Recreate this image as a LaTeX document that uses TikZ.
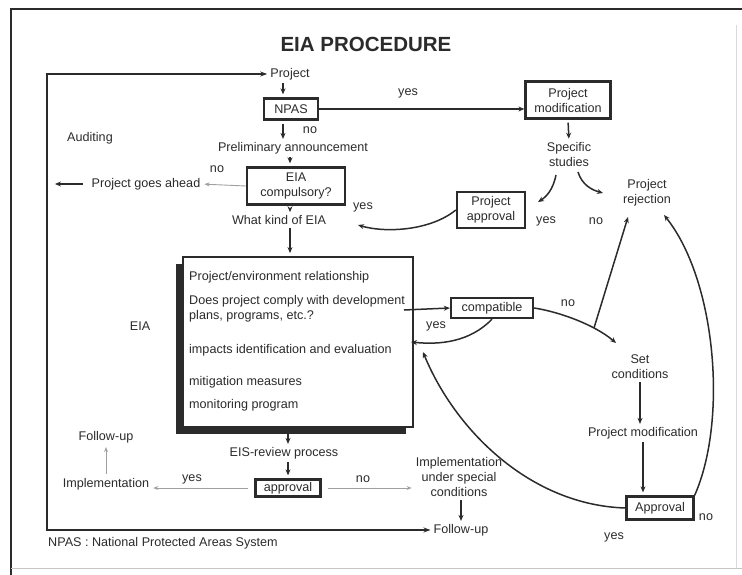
\documentclass[tikz,border=0pt]{standalone}
\usepackage{fontspec}
\setmainfont{Liberation Sans}
\usetikzlibrary{arrows.meta,shadows}
\definecolor{ink}{HTML}{2B2B2B}
\definecolor{pale}{HTML}{A0A0A0}
\begin{document}
\begin{tikzpicture}[x=1pt,y=-1pt,
  every node/.style={font=\fontsize{12.6}{15}\selectfont,text=ink,align=center,inner sep=0pt},
  boxed/.style={draw=ink,line width=2.3pt},
  flow/.style={draw=ink,line width=1.5pt,-{Stealth[length=6pt,width=5pt]}},
  faint/.style={draw=pale,line width=0.9pt,-{Stealth[length=5pt,width=4pt]}},
  gap/.style={shorten <=3pt,shorten >=3pt}]
\useasboundingbox (0,0) rectangle (742,575);

\draw[ink,line width=1.6pt] (11,575) -- (11,9) -- (742,9);
\draw[pale!60,line width=1pt] (11,568) -- (742,568);
\draw[pale!40,line width=0.8pt] (736,25) -- (736,568);

\node[font=\fontsize{20.5}{24}\selectfont\bfseries] (ttl) at (366,44) {EIA PROCEDURE};

\node                                              (prj)   at (290,74)  {Project};
\node[boxed,minimum width=54pt,minimum height=21pt] (npas)  at (291,109) {NPAS};
\node                                              (prel)  at (293,148) {Preliminary announcement};
\node[boxed,minimum width=98pt,minimum height=37pt] (eiac)  at (296,186) {EIA\\compulsory?};
\node                                              (kind)  at (279,220) {What kind of EIA};
\node                                              (goes)  at (146,184) {Project goes ahead};
\node                                              (aud)   at (90,138)  {Auditing};
\node[boxed,minimum width=85pt,minimum height=37pt] (pmod)  at (568,100) {Project\\modification};
\node                                              (spec)  at (569,154) {Specific\\studies};
\node                                              (prej)  at (647,193) {Project\\rejection};
\node[boxed,minimum width=68pt,minimum height=36pt] (pappr) at (491,210) {Project\\approval};

\node[draw=ink,line width=1.8pt,fill=white,minimum width=230pt,minimum height=170pt,
      drop shadow={shadow xshift=-7pt,shadow yshift=-7pt,fill=ink,opacity=1}] (eiab) at (298,342) {};
\node[anchor=west] (t_1) at (189,277) {Project/environment relationship};
\node[anchor=west,align=left] (t_2) at (189,309) {Does project comply with development\\plans, programs, etc.?};
\node[anchor=west] (t_3) at (189,350) {impacts identification and evaluation};
\node[anchor=west] (t_4) at (189,382) {mitigation measures};
\node[anchor=west] (t_5) at (189,405) {monitoring program};
\node                                              (eial)  at (140,326) {EIA};

\node[boxed,minimum width=82pt,minimum height=20pt] (comp)  at (492,308) {compatible};
\node                                              (setc)  at (640,367) {Set\\conditions};
\node                                              (pmod2) at (643,433) {Project modification};
\node[boxed,minimum width=67pt,minimum height=23pt] (appr2) at (660,508) {Approval};

\node                                              (eis)   at (284,453) {EIS-review process};
\node[boxed,minimum width=65pt,minimum height=17pt] (appr)  at (288,488) {approval};
\node                                              (impl)  at (106,484) {Implementation};
\node                                              (fup1)  at (106,437) {Follow-up};
\node                                              (iusc)  at (459,477) {Implementation\\under special\\conditions};
\node                                              (fup2)  at (461,530) {Follow-up};
\node[anchor=west]                                 (foot)  at (48,543)  {NPAS : National Protected Areas System};

\node (y_1) at (408,93)  {yes};
\node (n_1) at (310,130) {no};
\node (n_2) at (217,169) {no};
\node (y_2) at (363,207) {yes};
\node (y_3) at (546,221) {yes};
\node (n_3) at (596,221) {no};
\node (y_4) at (436,326) {yes};
\node (n_4) at (568,303) {no};
\node (n_5) at (706,517) {no};
\node (y_5) at (614,537) {yes};
\node (y_6) at (192,479) {yes};
\node (n_6) at (363,479) {no};

\coordinate (c_left) at (55,184);
\coordinate (c_bl)   at (47,530);
\coordinate (c_yes)  at (538,202);
\coordinate (c_no)   at (603,193);
\coordinate (c_kind) at (358,225);
\coordinate (c_in)   at (404,310);
\coordinate (c_back) at (411,342);
\coordinate (c_br)   at (594,328);
\coordinate (c_rj1)  at (628,217);
\coordinate (c_rj2)  at (664,215);
\coordinate (c_eia)  at (423,352);

\draw[line width=1.6pt,ink,{Stealth[length=7pt,width=5pt]}-{Stealth[length=7pt,width=5pt]},shorten <=3pt,shorten >=3pt]
  (prj.west) -| (c_bl) -- (fup2.west);

\draw[flow,gap] (prj.south -| 283,0) -- (npas.north -| 283,0);
\draw[flow] (npas.east) -- (npas.east -| pmod.west);
\draw[flow,gap] (npas.south -| 283,0) -- (prel.north -| 283,0);
\draw[flow,gap] (prel.south -| 290,0) -- (eiac.north -| 290,0);
\draw[faint,shorten >=4pt] (eiac.west) -- (goes.east);
\draw[flow,shorten <=9pt] (goes.west) -- (c_left);
\draw[flow,gap] (eiac.south -| 290,0) -- (kind.north -| 290,0);
\draw[flow,gap] (kind.south -| 290,0) -- (eiab.north -| 290,0);
\draw[flow,gap] (pmod.south) -- (spec.north);
\draw[flow] (556,175) .. controls (553,190) and (546,197) .. (c_yes);
\draw[flow] (578,172) .. controls (582,185) and (592,190) .. (c_no);
\draw[flow] (pappr.west) .. controls (430,231) and (385,233) .. (c_kind);

\draw[flow] (c_in) -- (comp.west);
\draw[flow] (comp.south) .. controls (470,342) and (440,345) .. (c_back);
\draw[flow] (comp.east) .. controls (560,312) and (595,325) .. (616,343);
\draw[flow] (c_br) -- (c_rj1);
\draw[flow,gap] (setc.south) -- (setc.south |- pmod2.north);
\draw[flow,gap] (pmod2.south) -- (pmod2.south |- appr2.north);
\draw[flow] (appr2.north east) .. controls (728,420) and (716,280) .. (c_rj2);
\draw[flow] (appr2.west) .. controls (530,505) and (455,430) .. (c_eia);

\draw[flow,gap] (eiab.south -| 288,0) -- (eis.north -| 288,0);
\draw[flow,gap] (eis.south -| 288,0) -- (appr.north -| 288,0);
\draw[faint,shorten <=6pt,shorten >=4pt] (appr.west) -- (appr.west -| impl.east);
\draw[faint,shorten <=4pt,shorten >=4pt] (impl.north) -- (fup1.south);
\draw[faint,shorten <=6pt,shorten >=4pt] (appr.east) -- (appr.east -| iusc.west);
\draw[flow,gap] (iusc.south -| fup2.north) -- (fup2.north);
\end{tikzpicture}
\end{document}
